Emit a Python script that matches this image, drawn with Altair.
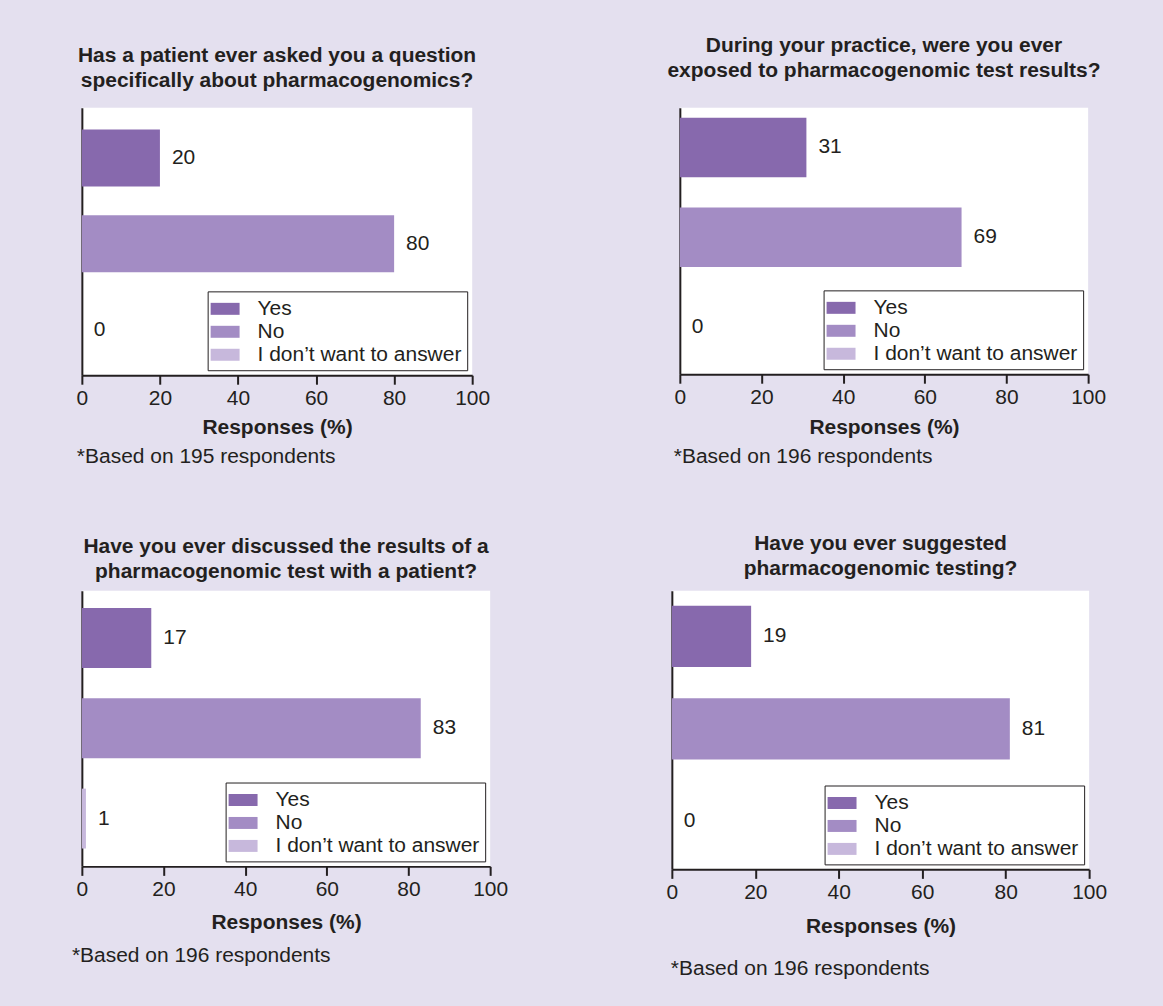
import altair as alt
import pandas as pd

# ---------------- data ----------------
categories = ["Yes", "No", "I don’t want to answer"]
colors = ["#8769AD", "#A38CC4", "#C7B8DC"]
titles = [
    ["Has a patient ever asked you a question", "specifically about pharmacogenomics?"],
    ["During your practice, were you ever", "exposed to pharmacogenomic test results?"],
    ["Have you ever discussed the results of a", "pharmacogenomic test with a patient?"],
    ["Have you ever suggested", "pharmacogenomic testing?"],
]
yes_pct = [20, 31, 17, 19]
no_pct = [80, 69, 83, 81]
idk_pct = [0, 0, 1, 0]
respondents = [195, 196, 196, 196]
x_ticks = [0, 20, 40, 60, 80, 100]

# ---------------- layout (pixels) ----------------
DARK = "#231F20"
BG = "#E4E0EF"
plot_origin = [(82, 107), (679, 107), (80, 591), (671, 591)]
plot_size = [(391, 268), (409, 267), (409, 276), (418, 279)]
cells = [(0, 0, 600, 490), (600, 0, 1163, 490), (0, 490, 600, 1006), (600, 490, 1163, 1006)]
band_outer = [0.227, 0.152, 0.194, 0.175]
band_align = [0.56, 0.365, 0.49, 0.46]
title_y = [-52, -62, -44, -47]
axis_title_pad = [8, 9, 12, 13]
foot_pos = [(-5, 350), (-6, 350), (-10, 366), (-1, 379)]
legend_symbol = "M-1.16,-0.48H1.16V0.48H-1.16Z"


def panel(i):
    df = pd.DataFrame({"answer": categories,
                       "pct": [yes_pct[i], no_pct[i], idk_pct[i]]})
    df["label"] = df["pct"].astype(str)
    w, h = plot_size[i]
    px, py = plot_origin[i]
    cx0, cy0, cx1, cy1 = cells[i]

    x = alt.X("pct:Q",
              scale=alt.Scale(domain=[0, 100], nice=False),
              axis=alt.Axis(values=x_ticks, title="Responses (%)", grid=False,
                            tickSize=9, tickWidth=2, tickColor=DARK,
                            domainColor=DARK, domainWidth=2,
                            labelFontSize=21, labelColor=DARK, labelPadding=3,
                            labelFlush=False, labelOverlap=False,
                            titleFontSize=21, titleFontWeight="bold",
                            titleColor=DARK, titlePadding=axis_title_pad[i]))
    y = alt.Y("answer:N", sort=categories,
              scale=alt.Scale(paddingInner=0.337, paddingOuter=band_outer[i],
                              align=band_align[i]),
              axis=alt.Axis(title=None, labels=False, ticks=False,
                            domainColor=DARK, domainWidth=2))

    bars = alt.Chart(df).mark_bar().encode(
        x=x, y=y,
        color=alt.Color("answer:N", sort=categories,
                        scale=alt.Scale(domain=categories, range=colors),
                        legend=alt.Legend(title=None, orient="bottom-right", offset=5,
                                          fillColor="white", strokeColor=DARK,
                                          padding=5, rowPadding=0, labelOffset=20,
                                          labelFontSize=21, labelColor=DARK,
                                          labelLimit=400,
                                          symbolType=legend_symbol, symbolSize=625,
                                          symbolStrokeWidth=0, symbolOpacity=1)),
    )
    labels = alt.Chart(df).mark_text(align="left", baseline="middle", dx=12,
                                     fontSize=21, color=DARK).encode(
        x="pct:Q", y=alt.Y("answer:N", sort=categories), text="label:N")

    head = alt.Chart(pd.DataFrame({"t": ["\n".join(titles[i])]})).mark_text(
        align="center", baseline="middle", fontSize=21, fontWeight="bold",
        lineHeight=25, lineBreak="\n", color=DARK).encode(
        x=alt.value(w / 2), y=alt.value(title_y[i]), text="t:N")

    foot = alt.Chart(pd.DataFrame({"t": [f"*Based on {respondents[i]} respondents"]})).mark_text(
        align="left", baseline="middle", fontSize=21, color=DARK).encode(
        x=alt.value(foot_pos[i][0]), y=alt.value(foot_pos[i][1]), text="t:N")

    # transparent cell frame that fixes each panel's place in the grid
    frame = alt.Chart(pd.DataFrame({"s": [0]})).mark_rect(opacity=0).encode(
        x=alt.value(cx0 - px), x2=alt.value(cx1 - px),
        y=alt.value(cy0 - py), y2=alt.value(cy1 - py))

    return alt.layer(frame, bars, labels, head, foot).properties(width=w, height=h)


chart = alt.concat(panel(0), panel(1), panel(2), panel(3),
                   columns=2, spacing=0, align="none").resolve_scale(
    color="independent").resolve_legend(color="independent").properties(
    padding=0, background=BG
).configure(font="Liberation Sans").configure_view(fill="white", strokeWidth=0)

chart.save("out.html", embed_options={"renderer": "svg", "actions": False})
